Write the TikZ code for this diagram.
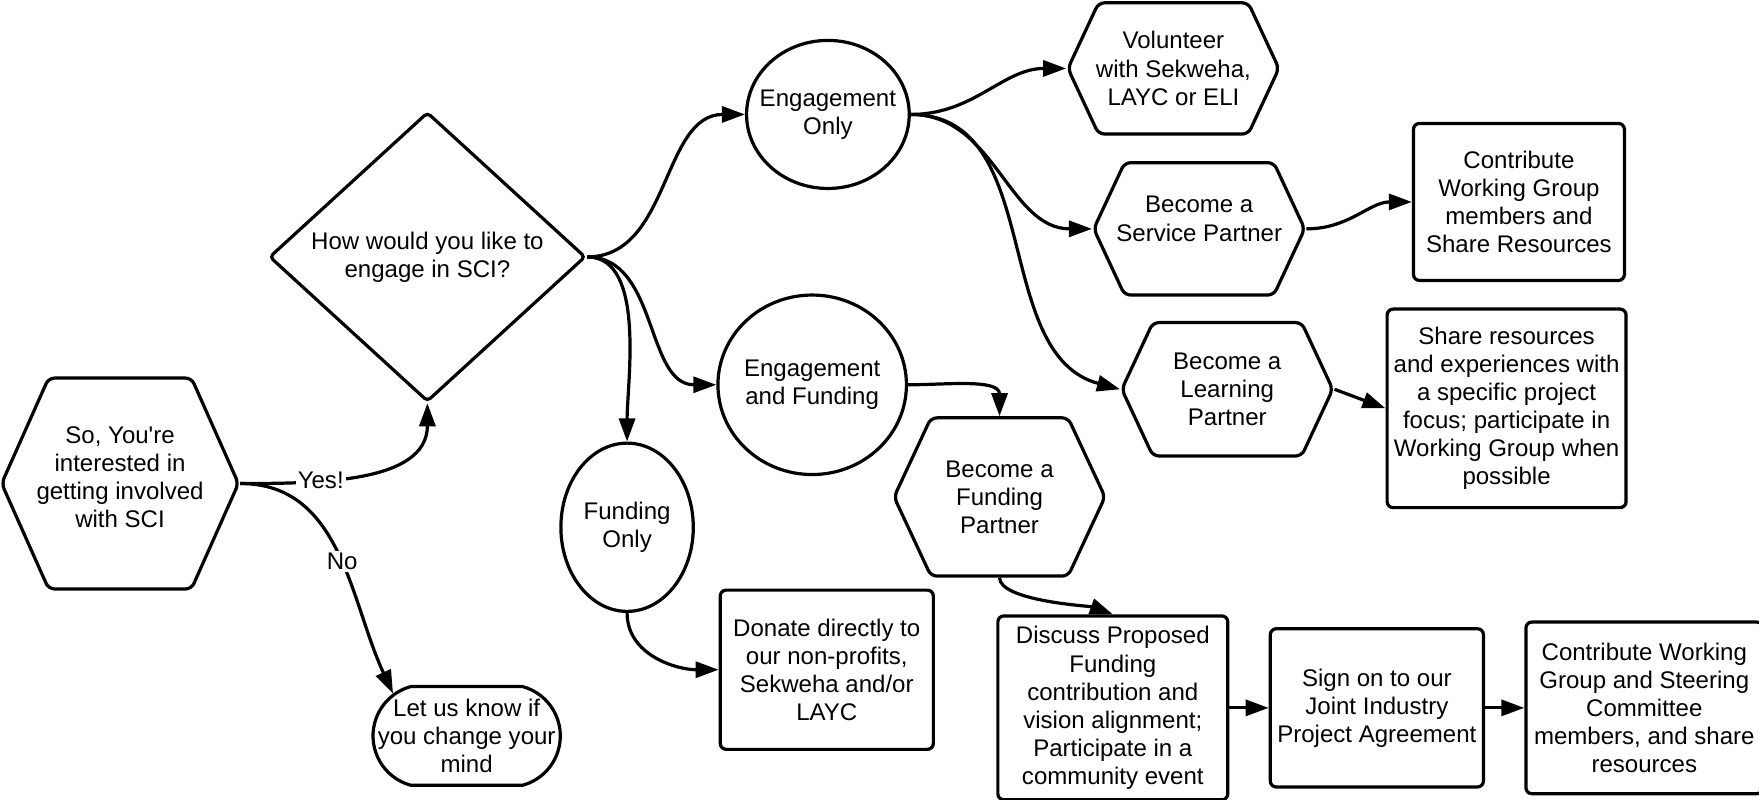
\documentclass[tikz,border=0pt]{standalone}
\usepackage{fontspec}
\setmainfont{Liberation Sans}
\usetikzlibrary{arrows.meta,shapes.geometric,shapes.symbols,shapes.misc,positioning}

\begin{document}
\begin{tikzpicture}[
				x=0.56pt,y=-0.56pt,
				font=\fontsize{12}{14}\selectfont,
				line width=1.6pt,
				every node/.style={align=center},
				box/.style={draw,rectangle,rounded corners=3pt,inner sep=0pt},
				hexa/.style={draw,signal,signal to=west and east,signal pointer angle=130,rounded corners=3pt,inner sep=0pt},
				oval/.style={draw,ellipse,inner sep=0pt},
				choice/.style={draw,diamond,rounded corners=2pt,inner sep=0pt},
				endbox/.style={draw,rounded rectangle,rounded rectangle arc length=150,inner sep=0pt},
				flow/.style={-{Triangle[length=11.5pt,width=8pt]}},
				tag/.style={fill=white,inner sep=1pt}
				]
				\useasboundingbox (0,0) rectangle (1568,713);
				
				% Start and question
				\node[hexa,minimum width=118.2pt,minimum height=105.3pt,signal pointer angle=132,label={[yshift=3pt]center:{So, You{\textquotesingle}re\\interested in\\getting involved\\with SCI}}] (start) at (107,431) {};
				\node[choice,minimum width=157.9pt,minimum height=144.5pt] (ask) at (381,229) {How would you like to\\engage in SCI?};
				\node[endbox,minimum width=93.5pt,minimum height=49.3pt,label={center:{Let us know if\\you change your\\mind}}] (nomind) at (416,656) {};
				
				% Ways to engage
				\node[oval,minimum width=81.2pt,minimum height=73.9pt,label={center:{Engagement\\Only}}] (engonly) at (738,102) {};
				\node[oval,minimum width=94.1pt,minimum height=89.6pt,label={center:{Engagement\\and Funding}}] (engfund) at (724,343) {};
				\node[oval,minimum width=66.1pt,minimum height=84pt,label={center:{Funding\\Only}}] (fundonly) at (559,470) {};
				
				% Partners
				\node[hexa,minimum width=105.3pt,minimum height=65.5pt,label={center:{Volunteer\\with Sekweha,\\LAYC or ELI}}] (volunteer) at (1046,61) {};
				\node[hexa,minimum width=105.3pt,minimum height=66.1pt,label={[yshift=5pt]center:{Become a\\Service Partner}}] (service) at (1069,204) {};
				\node[hexa,minimum width=105.3pt,minimum height=66.6pt,label={center:{Become a\\Learning\\Partner}}] (learning) at (1094,347) {};
				\node[hexa,minimum width=105.3pt,minimum height=79pt,label={center:{Become a\\Funding\\Partner}}] (fundpart) at (891,443) {};
				
				% Actions
				\node[box,minimum width=105.3pt,minimum height=78.4pt] (contrib) at (1354,180) {Contribute\\Working Group\\members and\\Share Resources};
				\node[box,minimum width=119.3pt,minimum height=99.1pt] (share) at (1343,364) {Share resources\\and experiences with\\a specific project\\focus; participate in\\Working Group when\\possible};
				\node[box,minimum width=106.4pt,minimum height=79.5pt] (donate) at (737,597) {Donate directly to\\our non-profits,\\Sekweha and/or\\LAYC};
				\node[box,minimum width=114.8pt,minimum height=91.8pt] (discuss) at (992,631) {Discuss Proposed\\Funding\\contribution and\\vision alignment;\\Participate in a\\community event};
				\node[box,minimum width=106.4pt,minimum height=79pt,right=19.6pt of discuss] (signon) {Sign on to our\\Joint Industry\\Project Agreement};
				\node[box,minimum width=118.2pt,minimum height=85.7pt,right=19.6pt of signon] (steer) {Contribute Working\\Group and Steering\\Committee\\members, and share\\resources};
				
				% Yes / No
				\draw[flow] (start.east) to[out=0,in=-90] node[tag,pos=0.32] {Yes!} (ask.south);
				\draw[flow] (start.east) to[out=0,in=115] node[tag,pos=0.53] {No} (nomind.150);
				
				% From the question
				\draw[flow] (ask.east) to[out=0,in=180] (engonly.west);
				\draw[flow] (ask.east) to[out=0,in=180] (engfund.west);
				\draw[flow] (ask.east) to[out=0,in=90,looseness=0.8] (fundonly.north);
				
				% Engagement only
				\draw[flow] (engonly.east) to[out=0,in=180] (volunteer.west);
				\draw[flow] (engonly.east) to[out=0,in=180] (service.west);
				\draw[flow] (engonly.east) to[out=0,in=165] (learning.west);
				\draw[flow] (service.east) to[out=0,in=180] (contrib.west);
				\draw[flow] (learning.east) -- (share.west);
				
				% Funding
				\draw[flow] (engfund.east) to[out=0,in=90] (fundpart.north);
				\draw[flow] (fundonly.south) to[out=-90,in=180] (donate.west);
				\draw[flow] (fundpart.south) to[out=-90,in=160,looseness=0.5] (discuss.north);
				\draw[flow] (discuss) -- (signon);
				\draw[flow] (signon) -- (steer);
				
			\end{tikzpicture}
\end{document}
